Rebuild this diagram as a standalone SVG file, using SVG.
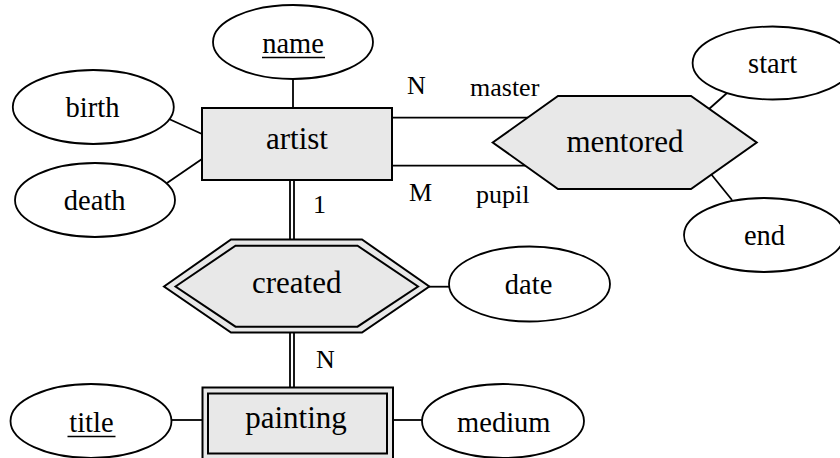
<svg xmlns="http://www.w3.org/2000/svg" width="840" height="458" viewBox="0 0 840 458" font-family="'Liberation Serif', 'Times New Roman', Times, 'DejaVu Serif', serif">
<style>
text{font-family:"Liberation Serif","Times New Roman",Times,"DejaVu Serif",serif;fill:#000}
.big{font-size:31px;text-anchor:middle}
.attr{font-size:28.5px;text-anchor:middle}
.lab{font-size:26px}
.ell{fill:#fff;stroke:#000;stroke-width:1.8}
.box{fill:#e8e8e8;stroke:#000;stroke-width:2}
.ln{stroke:#000;stroke-width:1.8;fill:none}
.ul{stroke:#000;stroke-width:1.6}
</style>
<rect width="840" height="458" fill="#fff"/>
<g id="connectors">
<line class="ln" x1="293" y1="79" x2="293" y2="108"/>
<line class="ln" x1="169" y1="119" x2="202" y2="134"/>
<line class="ln" x1="167" y1="183" x2="202" y2="159"/>
<line class="ln" x1="393" y1="117.7" x2="530" y2="117.7"/>
<line class="ln" x1="393" y1="165.7" x2="530" y2="165.7"/>
<line class="ln" x1="709" y1="109" x2="727" y2="93"/>
<line class="ln" x1="711" y1="174" x2="732" y2="200"/>
<line class="ln" x1="290" y1="181" x2="290" y2="242"/>
<line class="ln" x1="294" y1="181" x2="294" y2="242"/>
<line class="ln" x1="428" y1="286.7" x2="450" y2="286.7"/>
<line class="ln" x1="290" y1="331" x2="290" y2="388"/>
<line class="ln" x1="294" y1="331" x2="294" y2="388"/>
<line class="ln" x1="171" y1="420" x2="203" y2="420"/>
<line class="ln" x1="393" y1="420" x2="423" y2="420"/>
</g>
<g id="artist">
<rect class="box" x="202" y="108" width="190" height="72"/>
<text class="big" x="297" y="149">artist</text>
</g>
<g id="name">
<ellipse class="ell" cx="293" cy="42" rx="80" ry="37"/>
<text class="attr" x="293" y="53">name</text>
<line class="ul" x1="262" y1="57.5" x2="325" y2="57.5"/>
</g>
<g id="birth">
<ellipse class="ell" cx="93.3" cy="107" rx="80.5" ry="37"/>
<text class="attr" x="92.5" y="117">birth</text>
</g>
<g id="death">
<ellipse class="ell" cx="95" cy="200" rx="80" ry="37"/>
<text class="attr" x="94.7" y="210">death</text>
</g>
<g id="mentored">
<polygon class="box" points="492.7,142.5 558,96 691,96 756.7,142.5 691,189 558,189"/>
<text class="big" x="625" y="152">mentored</text>
</g>
<g id="start">
<ellipse class="ell" cx="772.6" cy="63" rx="80" ry="36.5"/>
<text class="attr" x="772.6" y="73">start</text>
</g>
<g id="end">
<ellipse class="ell" cx="764" cy="235" rx="80" ry="37"/>
<text class="attr" x="764.5" y="245">end</text>
</g>
<g id="created">
<polygon class="box" points="164,286.5 231,239.5 362,239.5 429.3,286.5 362,332.5 231,332.5"/>
<polygon class="box" points="175.5,286.5 235.5,245.7 357.5,245.7 418,286.5 357.5,326.7 235.5,326.7"/>
<text class="big" x="296.7" y="293">created</text>
</g>
<g id="date">
<ellipse class="ell" cx="529.5" cy="284" rx="80.5" ry="37.5"/>
<text class="attr" x="528.6" y="294">date</text>
</g>
<g id="painting">
<rect class="box" x="202.5" y="387.5" width="190.5" height="72"/>
<rect class="box" x="208" y="393.5" width="179" height="60"/>
<text class="big" x="296" y="428">painting</text>
</g>
<g id="title">
<ellipse class="ell" cx="91" cy="421" rx="80.5" ry="37"/>
<text class="attr" x="91.4" y="432">title</text>
<line class="ul" x1="67.5" y1="436.5" x2="115.5" y2="436.5"/>
</g>
<g id="medium">
<ellipse class="ell" cx="503" cy="421" rx="81" ry="37"/>
<text class="attr" x="503.8" y="432">medium</text>
</g>
<g id="labels">
<text class="lab" x="407" y="94">N</text>
<text class="lab" x="470" y="96">master</text>
<text class="lab" x="409" y="201">M</text>
<text class="lab" x="476" y="203">pupil</text>
<text class="lab" x="313" y="213">1</text>
<text class="lab" x="316" y="368">N</text>
</g>
</svg>
